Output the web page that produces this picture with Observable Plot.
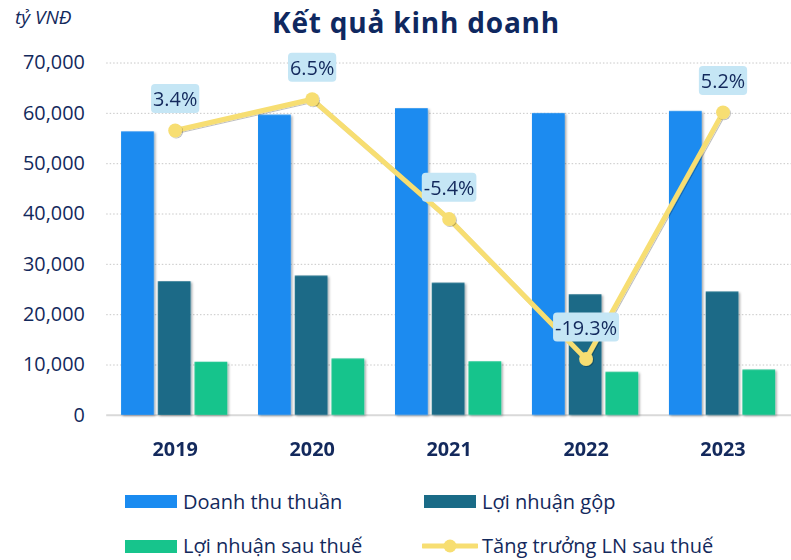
<!DOCTYPE html>
<html>
<head>
<meta charset="utf-8">
<script src="https://cdn.jsdelivr.net/npm/d3@7"></script>
<script src="https://cdn.jsdelivr.net/npm/@observablehq/plot@0.6"></script>
<style>
  html, body { margin: 0; padding: 0; background: #fff; }
  #chart { position: relative; width: 791px; height: 560px; overflow: hidden; font-family: "Open Sans", sans-serif; color: #13295c; }
  .layer { position: absolute; left: 0; top: 0; }
  #title { position: absolute; left: 0; width: 832px; top: 3px; text-align: center; font-size: 28px; line-height: 38px; font-weight: 700; letter-spacing: 0.8px; white-space: nowrap; color: #0f2860; }
  #unit { position: absolute; left: 15px; top: 8px; font-size: 19px; line-height: 19px; font-style: italic; white-space: nowrap; }
  .leg { position: absolute; height: 20px; display: flex; align-items: center; font-size: 20px; line-height: 20px; white-space: nowrap; }
  .sw { display: inline-block; width: 52px; height: 13px; margin-right: 6px; }
  #bars g[aria-label="bar"] { filter: url(#sh); }
  #linep g[aria-label="line"], #linep g[aria-label="dot"] { filter: url(#sh2); }
</style>
</head>
<body>
<svg width="0" height="0" style="position:absolute">
  <defs>
    <filter id="sh" x="-10%" y="-10%" width="130%" height="130%">
      <feDropShadow dx="1.5" dy="1.2" stdDeviation="0.9" flood-color="#000" flood-opacity="0.35"/>
    </filter>
    <filter id="sh2" x="-10%" y="-10%" width="130%" height="130%">
      <feDropShadow dx="1" dy="1" stdDeviation="0.8" flood-color="#000" flood-opacity="0.25"/>
    </filter>
  </defs>
</svg>
<div id="chart">
  <div id="title">Kết quả kinh doanh</div>
  <div id="unit">tỷ VNĐ</div>
</div>
<script>
// ---- data ----
const years = ["2019", "2020", "2021", "2022", "2023"];
const seriesNames = ["Doanh thu thuần", "Lợi nhuận gộp", "Lợi nhuận sau thuế"];
const doanhThuThuan = [56318, 59636, 60919, 59956, 60369];
const loiNhuanGop = [26550, 27670, 26250, 23950, 24500];
const loiNhuanSauThue = [10550, 11200, 10630, 8550, 9000];
const tangTruongLN = [3.4, 6.5, -5.4, -19.3, 5.2];
const lineName = "Tăng trưởng LN sau thuế";
const yTicks = [0, 10000, 20000, 30000, 40000, 50000, 60000, 70000];
const barColors = ["#1a8bf0", "#1a6b87", "#17c48c"];
const lineColor = "#f7de72";
const navy = "#13295c";

// ---- tables built from arrays ----
const seriesValues = [doanhThuThuan, loiNhuanGop, loiNhuanSauThue];
const rows = [];
years.forEach((yr, i) => seriesNames.forEach((s, j) => rows.push({year: yr, series: s, value: seriesValues[j][i]})));
const growthRows = years.map((yr, i) => ({year: yr, growth: tangTruongLN[i]}));

const W = 797, H = 470;
const M = {marginLeft: 107, marginRight: 0, marginTop: 63, marginBottom: 52};
const baseStyle = {fontFamily: "Open Sans", fontSize: "20px", color: navy, background: "transparent", overflow: "visible"};
const fmt = d3.format(",");

// background: grid + y axis
const bg = Plot.plot({
  width: W, height: H, ...M,
  style: baseStyle,
  y: {domain: [0, 70000], label: null},
  marks: [
    Plot.ruleY(yTicks.filter(v => v > 0), {stroke: "#c8c8c8", strokeWidth: 1, strokeDasharray: "1.5,2"}),
    Plot.ruleY([0], {stroke: "#d9d9d9", strokeWidth: 2}),
    Plot.axisY({ticks: yTicks, tickSize: 0, tickPadding: 22, tickFormat: fmt, fontSize: 20, label: null})
  ]
});

// bars (faceted by year)
const bars = Plot.plot({
  width: W, height: H, ...M,
  style: baseStyle,
  fx: {domain: years, paddingInner: 0.2, paddingOuter: 0.1, axis: null, label: null},
  x: {domain: seriesNames, paddingInner: 0.1, paddingOuter: 0, axis: null},
  y: {domain: [0, 70000], axis: null},
  color: {domain: seriesNames, range: barColors},
  marks: [
    Plot.barY(rows, {fx: "year", x: "series", y: "value", fill: "series"})
  ]
});

// growth line (secondary scale) + year labels
const lp = Plot.plot({
  width: W, height: H, ...M,
  style: {...baseStyle, fontWeight: "bold"},
  x: {type: "point", domain: years, padding: 0.5, label: null},
  y: {domain: [-24.9, 10.1], axis: null},
  marks: [
    Plot.axisX({tickSize: 0, tickPadding: 27, fontSize: 20, fontWeight: "bold", label: null}),
    Plot.line(growthRows, {x: "year", y: "growth", stroke: lineColor, strokeWidth: 5}),
    Plot.dot(growthRows, {x: "year", y: "growth", r: 7, fill: lineColor}),
    Plot.text(growthRows, {x: "year", y: "growth", text: d => d.growth.toFixed(1) + "%", dy: -31, fontSize: 20, fontWeight: "normal", fill: navy})
  ]
});

const chart = document.getElementById("chart");
[bg, bars, lp].forEach((s, k) => {
  s.classList.add("layer");
  s.id = ["bgp", "bars", "linep"][k];
  chart.appendChild(s);
});

// label boxes behind growth labels
const NS = "http://www.w3.org/2000/svg";
lp.querySelectorAll('g[aria-label="text"] text').forEach(t => {
  const b = t.getBBox();
  const r = document.createElementNS(NS, "rect");
  r.setAttribute("x", b.x - 2);
  r.setAttribute("y", b.y - 1);
  r.setAttribute("width", b.width + 4);
  r.setAttribute("height", b.height + 2);
  r.setAttribute("rx", 4);
  r.setAttribute("fill", "#c5e6f5");
  if (t.getAttribute("transform")) r.setAttribute("transform", t.getAttribute("transform"));
  t.parentNode.insertBefore(r, t);
});

// legend
const legendItems = [
  {label: seriesNames[0], color: barColors[0], left: 125, cy: 501.5, type: "bar"},
  {label: seriesNames[1], color: barColors[1], left: 424, cy: 501.5, type: "bar"},
  {label: seriesNames[2], color: barColors[2], left: 125, cy: 546, type: "bar"},
  {label: lineName, color: lineColor, left: 422, cy: 546, type: "line"}
];
legendItems.forEach(it => {
  const d = document.createElement("div");
  d.className = "leg";
  d.style.left = it.left + "px";
  d.style.top = (it.cy - 10) + "px";
  if (it.type === "bar") {
    const sw = document.createElement("span");
    sw.className = "sw";
    sw.style.background = it.color;
    d.appendChild(sw);
  } else {
    const s = document.createElementNS(NS, "svg");
    s.setAttribute("width", 56); s.setAttribute("height", 16);
    s.style.marginRight = "4px";
    s.innerHTML = `<line x1="1" x2="55" y1="8" y2="8" stroke="${it.color}" stroke-width="5" stroke-linecap="round"/><circle cx="28" cy="8" r="6.5" fill="${it.color}"/>`;
    d.appendChild(s);
  }
  const tx = document.createElement("span");
  tx.textContent = it.label;
  d.appendChild(tx);
  chart.appendChild(d);
});
</script>
</body>
</html>
